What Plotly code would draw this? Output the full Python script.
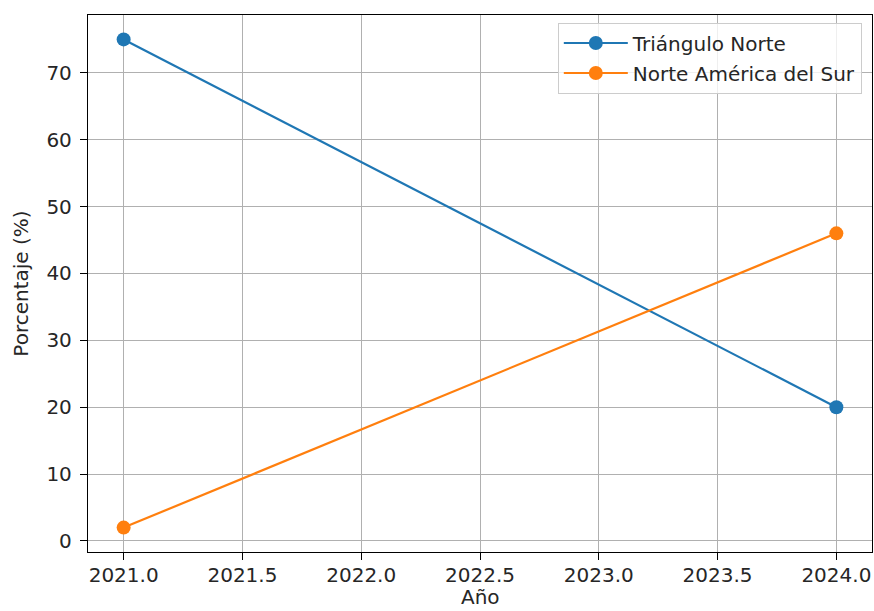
import plotly.graph_objects as go

# Series data
years = [2021, 2024]
triangulo_norte = [75, 20]
norte_america_sur = [2, 46]

x_ticks = [2021.0, 2021.5, 2022.0, 2022.5, 2023.0, 2023.5, 2024.0]
x_tick_labels = ["2021.0", "2021.5", "2022.0", "2022.5", "2023.0", "2023.5", "2024.0"]
y_ticks = [0, 10, 20, 30, 40, 50, 60, 70]

font_family = "DejaVu Sans, sans-serif"
text_color = "#262626"
font_size = 20

fig = go.Figure()
fig.add_trace(go.Scatter(
    x=years, y=triangulo_norte, mode="lines+markers", name="Triángulo Norte",
    legendgroup="a",
    line=dict(color="#1f77b4", width=2.2), marker=dict(color="#1f77b4", size=14),
))
fig.add_trace(go.Scatter(
    x=years, y=norte_america_sur, mode="lines+markers", name="Norte América del Sur",
    legendgroup="b",
    line=dict(color="#ff7f0e", width=2.2), marker=dict(color="#ff7f0e", size=14),
))

axis_common = dict(
    showline=True, linecolor="black", linewidth=1.3, mirror=True,
    ticks="outside", ticklen=7, tickwidth=1.3, tickcolor="black",
    showgrid=True, gridcolor="#b0b0b0", gridwidth=1.2, zeroline=False,
    tickfont=dict(family=font_family, size=font_size, color=text_color),
    title_font=dict(family=font_family, size=font_size, color=text_color),
)

fig.update_xaxes(
    range=[2020.85, 2024.15], tickvals=x_ticks, ticktext=x_tick_labels,
    ticklabelstandoff=-2, **axis_common,
)
fig.update_yaxes(
    range=[-1.65, 78.65], tickvals=y_ticks, ticklabelstandoff=4,
    title_text="Porcentaje (%)", title_standoff=12, **axis_common,
)

# x-axis title placed just under the tick labels
fig.add_annotation(
    text="Año", xref="paper", yref="paper", x=0.5, y=-59 / 537,
    xanchor="center", yanchor="bottom", showarrow=False,
    font=dict(family=font_family, size=font_size, color=text_color),
)

fig.update_layout(
    width=874, height=611,
    margin=dict(l=88, r=2, t=15, b=59),
    paper_bgcolor="white", plot_bgcolor="white",
    font=dict(family=font_family, size=font_size, color=text_color),
    showlegend=True,
    legend=dict(
        x=0.987, y=0.986, xanchor="right", yanchor="top",
        bgcolor="rgba(255,255,255,0.8)", bordercolor="#cccccc", borderwidth=1,
        font=dict(family=font_family, size=font_size, color=text_color),
        itemwidth=64, tracegroupgap=1, traceorder="grouped",
    ),
)

fig.write_html("out.html")
